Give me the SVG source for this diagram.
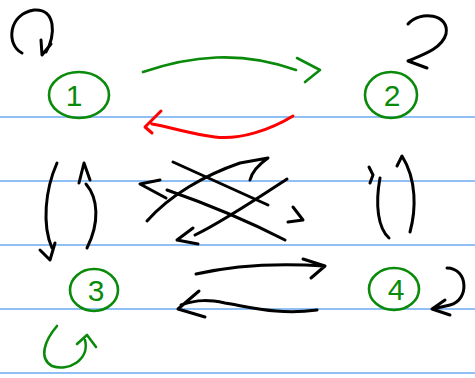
<svg xmlns="http://www.w3.org/2000/svg" width="475" height="378" viewBox="0 0 475 378">
<style>
.rule{stroke:#6aaaf0;stroke-width:1.5}
.ink{fill:none;stroke:#000;stroke-width:3;stroke-linecap:round;stroke-linejoin:round}
.g{fill:none;stroke:#0a8a0a;stroke-width:2.6;stroke-linecap:round;stroke-linejoin:round}
.r{fill:none;stroke:#f00;stroke-width:3;stroke-linecap:round;stroke-linejoin:round}
.lbl{font-family:"Liberation Sans",Arial,sans-serif;font-size:30px;fill:#0a8a0a;text-anchor:middle}
</style>
<rect width="475" height="378" fill="#fff"/>
<g id="rules">
<line class="rule" x1="0" y1="117" x2="475" y2="117"/>
<line class="rule" x1="0" y1="181" x2="475" y2="181"/>
<line class="rule" x1="0" y1="245" x2="475" y2="245"/>
<line class="rule" x1="0" y1="309" x2="475" y2="309"/>
<line class="rule" x1="0" y1="373" x2="475" y2="373"/>
</g>
<g id="node1">
<ellipse class="g" cx="79" cy="95" rx="30" ry="23"/>
<text class="lbl" x="74" y="106">1</text>
</g>
<g id="node2">
<ellipse class="g" cx="391" cy="95" rx="26" ry="23"/>
<text class="lbl" x="392" y="106">2</text>
</g>
<g id="node3">
<ellipse class="g" cx="94" cy="290" rx="24" ry="21"/>
<text class="lbl" x="96" y="301">3</text>
</g>
<g id="node4">
<ellipse class="g" cx="394" cy="289" rx="25" ry="21"/>
<text class="lbl" x="396" y="300">4</text>
</g>
<g id="connectors">
<path class="ink" d="M22 53 C6 45 8 14 34 10 C56 8 56 36 46 52 M41 40 L42 55 L51 44"/>
<path class="ink" d="M408 24 C420 10 450 14 446 34 C442 48 425 54 408 61 L427 68"/>
<path class="g" d="M57 326 C45 340 38 358 52 366 C68 372 90 360 85 340 M77 344 L87 335 L96 347"/>
<path class="ink" d="M447 268 C468 268 470 300 450 305 C442 307 436 308 432 309 L445 300 M432 309 L450 315"/>
<path class="g" d="M143 72 C190 56 240 50 296 70 M297 58 L320 70 L305 82"/>
<path class="r" d="M293 116 C270 130 240 140 215 137 C190 134 170 127 152 124 M161 111 L145 127 L152 133"/>
<path class="ink" d="M57 163 C45 190 42 225 52 248 M40 250 L50 260 L55 243"/>
<path class="ink" d="M87 248 C100 222 98 198 86 184 M79 183 L84 163 L90 180"/>
<path class="ink" d="M380 178 C375 205 378 228 389 238 M369 167 L373 175 L370 183"/>
<path class="ink" d="M410 232 C416 210 417 180 402 156 L397 166"/>
<path class="ink" d="M173 162 L268 205"/>
<path class="ink" d="M293 207 L303 220 L288 222"/>
<path class="ink" d="M147 221 C170 195 205 175 240 163 L268 158 C258 165 252 172 250 180"/>
<path class="ink" d="M160 180 L140 184 L166 198 M167 190 C210 205 250 222 285 240"/>
<path class="ink" d="M287 179 C255 200 222 222 195 235 M193 228 L177 240 L198 244"/>
<path class="ink" d="M196 274 C235 265 280 263 325 266 M303 259 L325 266 L311 278"/>
<path class="ink" d="M317 310 C280 315 255 308 225 303 C210 300 198 299 181 305 M199 291 L178 309 L205 317"/>
</g>
</svg>
